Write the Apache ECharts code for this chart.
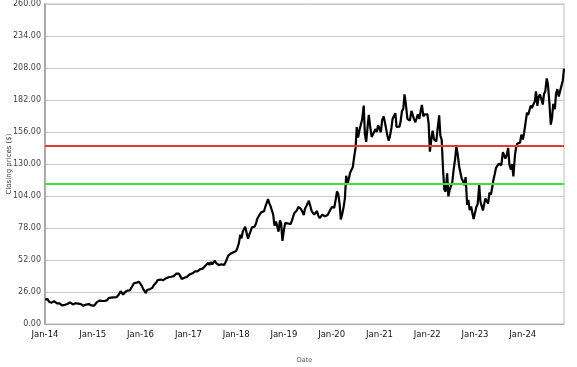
<!DOCTYPE html>
<html>
<head>
<meta charset="utf-8">
<script src="https://cdn.jsdelivr.net/npm/echarts@6/dist/echarts.min.js"></script>
<style>html,body{margin:0;padding:0;background:#fff}#c{width:577px;height:367px}</style>
</head>
<body>
<div id="c"></div>
<script>
// Closing prices, sampled ~2nd, 11th, 21st of each month
const y2014 = [19.9,20.2,20.2, 17.9,18.0,17.4, 18.6,18.5,18.1, 16.8,16.6,16.7, 15.3,15.1,15.3, 15.6,16.3,16.3, 16.3,17.6,17.9, 15.9,16.4,16.9, 17.2,16.6,16.5, 16.1,15.9,14.8, 15.3,15.8,16.5, 16.2,15.3,15.1];
const y2015 = [15.4,14.8,15.6, 17.8,18.6,19.0, 19.1,18.8,18.6, 18.7,19.1,19.4, 21.1,21.4,21.4, 21.6,21.7,22.0, 21.8,22.5,24.1, 26.7,26.4,23.8, 25.6,26.2,27.1, 26.9,27.3,28.0, 31.3,33.1,32.9, 33.6,32.0,34.3];
const y2016 = [33.2,31.0,28.5, 28.0,25.1,27.8, 27.5,28.1,28.8, 29.6,31.5,31.3, 33.9,35.7,34.7, 36.1,35.9,35.5, 36.3,37.0,37.2, 38.0,38.4,38.4, 38.4,38.9,40.5, 41.0,41.8,40.9, 38.5,36.6,38.0, 37.6,38.2,38.3];
const y2017 = [37.7,40.3,40.8, 41.2,41.8,42.7, 42.4,42.7,42.6, 44.5,44.6,45.0, 46.6,47.3,48.0, 49.8,47.9,50.3, 48.4,49.9,51.5, 49.4,48.8,47.8, 48.6,48.5,48.2, 48.0,49.9,49.5, 55.5,56.3,57.2, 58.4,58.3,58.8];
const y2018 = [59.4,62.1,65.3, 72.5,69.6,75.1, 74.8,79.0,78.6, 69.3,72.5,75.3, 78.6,80.2,79.0, 81.7,85.4,87.4, 85.9,90.7,90.2, 91.6,94.9,95.4, 101.5,98.2,95.8, 96.8,89.0,80.0, 83.3,81.7,75.0, 84.2,81.5,67.5];
const y2019 = [76.9,82.0,82.4, 81.7,81.6,81.2, 83.6,83.0,90.0, 90.6,92.5,95.2, 96.7,93.6,91.5, 88.6,93.7,95.7, 96.8,100.2,99.5, 91.5,89.9,88.9, 89.7,91.8,88.0, 86.0,86.6,88.8, 89.0,87.6,87.5, 88.6,88.4,92.6];
const y2020 = [94.9,95.3,94.6, 101.8,107.7,105.4, 97.5,85.0,89.0, 95.3,101.9,120.4, 114.3,117.8,122.9, 122.3,127.6,135.7, 143.3,160.0,151.4, 158.2,157.6,166.1, 177.5,154.7,148.0, 160.3,170.0,160.9, 152.0,154.0,155.6, 158.4,155.9,161.6];
const y2021 = [163.2,155.8,165.7, 168.6,163.9,162.9, 153.2,149.0,152.3, 159.3,166.8,167.3, 171.3,160.1,160.9, 160.3,164.3,172.7, 175.2,186.5,179.0, 166.6,167.2,165.2, 173.2,174.2,166.7, 163.9,164.7,170.4, 166.7,173.0,178.0, 168.7,170.4,170.1];
const y2022 = [170.4,163.2,140.0, 151.2,157.1,150.0, 148.4,148.4,158.6, 169.5,153.1,149.7, 124.5,109.3,107.6, 122.4,103.7,108.9, 109.6,115.0,125.0, 134.2,144.0,138.2, 127.8,128.5,118.0, 115.9,112.9,119.3, 96.8,100.8,92.5, 95.5,90.6,85.3];
const y2023 = [84.0,95.1,97.3, 112.9,99.5,95.8, 92.2,92.3,102.0, 102.4,97.9,106.8, 105.0,110.2,116.8, 122.5,127.1,125.8, 130.2,130.7,129.0, 139.6,138.4,134.3, 138.1,143.1,129.3, 125.3,130.0,120.0, 137.0,143.6,146.7, 146.9,147.4,153.8];
const y2024 = [149.9,155.2,154.8, 171.8,169.8,168.6, 177.6,175.4,178.2, 180.9,189.1,177.2, 184.7,186.6,183.1, 178.3,186.9,189.1, 199.5,195.0,181.8, 162.0,166.9,178.9, 174.5,187.0,190.8, 184.8,188.8,189.1, 197.9,207.5];
const years = [2014,2015,2016,2017,2018,2019,2020,2021,2022,2023,2024];
const yearValues = [y2014,y2015,y2016,y2017,y2018,y2019,y2020,y2021,y2022,y2023,y2024];
const sampleDays = [2,11,21];
const upperLevel = 145;
const lowerLevel = 114;
const yTicks = {min:0, max:260, interval:26};

const data = [];
years.forEach((yr, k) => {
  yearValues[k].forEach((v, i) => {
    const m = Math.floor(i / 3);
    const d = sampleDays[i % 3];
    data.push([new Date(yr, m, d).getTime(), v]);
  });
});

const chart = echarts.init(document.getElementById('c'), null, {renderer:'canvas'});
chart.setOption({
  animation: false,
  backgroundColor: '#fff',
  grid: {left:45, right:13, top:4, bottom:43, show:true, borderColor:'#bbb', borderWidth:1, outerBoundsMode:'none', containLabel:false},
  xAxis: {
    type: 'time',
    min: new Date(2014,0,1).getTime(),
    max: data[data.length-1][0],
    minInterval: 365*86400000,
    maxInterval: 366*86400000,
    name: 'Date', nameLocation: 'middle', nameGap: 33, nameMoveOverlap: false,
    nameTextStyle: {fontFamily:'DejaVu Sans', fontSize:6.5, color:'#555'},
    axisLine: {show:true, lineStyle:{color:'#aaa', width:1}},
    axisTick: {show:false},
    splitLine: {show:false},
    axisLabel: {
      fontFamily:'DejaVu Sans', fontSize:8.5, color:'#111', margin:6,
      showMinLabel:true, showMaxLabel:false,
      formatter: v => { const d = new Date(v); return 'Jan-' + String(d.getFullYear()).slice(2); }
    }
  },
  yAxis: {
    type: 'value', min: yTicks.min, max: yTicks.max, interval: yTicks.interval,
    name: 'Closing prices ($)', nameLocation: 'middle', nameGap: 32, nameMoveOverlap: false,
    nameTextStyle: {fontFamily:'DejaVu Sans', fontSize:7, color:'#333'},
    axisLine: {show:true, lineStyle:{color:'#aaa', width:2}},
    axisTick: {show:false},
    splitLine: {show:true, lineStyle:{color:'#c8c8c8', width:1}},
    axisLabel: {fontFamily:'DejaVu Sans', fontSize:8, color:'#444', margin:4, formatter: v => v.toFixed(2)}
  },
  series: [{
    type: 'line', data: data, showSymbol: false, symbol:'none',
    lineStyle: {color:'#000', width:2.2},
    z: 3,
    markLine: {
      silent: true, symbol: 'none', label: {show:false},
      data: [
        {yAxis: upperLevel, lineStyle:{color:'#e53a3a', width:2, type:'solid'}},
        {yAxis: lowerLevel, lineStyle:{color:'#3fe03f', width:2, type:'solid'}}
      ]
    }
  }]
});
</script>
</body>
</html>
